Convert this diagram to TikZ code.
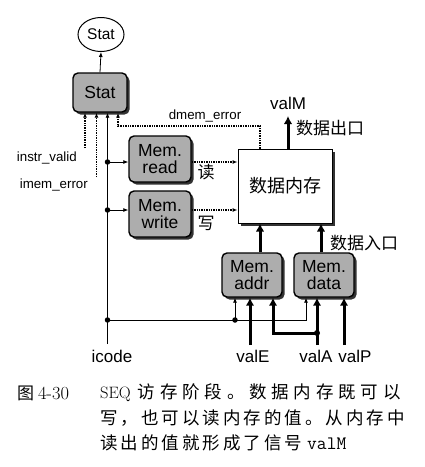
\documentclass[tikz,border=0pt]{standalone}
\usepackage{fontspec}
\usetikzlibrary{arrows.meta,shadows,shapes.geometric}
\newfontfamily\lsans{Liberation Sans}
\newfontfamily\cjk{Noto Sans CJK SC}
\newdimen\spk \spk=3pt
\def\spc#1{\ifx#1\relax\else#1\kern\spk\expandafter\spc\fi}
\begin{document}
\begin{tikzpicture}[x=1pt,y=-1pt,
  box/.style={draw, line width=1.4pt, rounded corners=5pt, fill=black!32,
    drop shadow={shadow xshift=2.5pt, shadow yshift=-2.5pt, fill=black!80, opacity=1},
    inner sep=0pt, align=center, font=\lsans\fontsize{17.5}{17}\selectfont},
  lbl/.style={inner sep=0pt, font=\lsans\fontsize{17}{17}\selectfont},
  slbl/.style={inner sep=0pt, font=\lsans\fontsize{13.3}{13.3}\selectfont},
  clbl/.style={inner sep=0pt, font=\cjk\fontsize{17}{17}\selectfont},
  thinarrow/.style={line width=0.8pt, -{Latex[length=5pt,width=4pt]}},
  dotarrow/.style={line width=1.4pt, densely dotted, -{Latex[length=5pt,width=4pt]}},
  thickarrow/.style={line width=3pt, -{Latex[length=8pt,width=8.5pt]}},
  dotj/.style={circle, fill, inner sep=0pt, minimum size=5.5pt}
]
\useasboundingbox (0,0) rectangle (425,467);

% nodes
\node[ellipse, draw, line width=1pt, minimum width=46pt, minimum height=34pt, inner sep=0pt,
  font=\lsans\fontsize{15.5}{15.5}\selectfont] (statout) at (101,34.5) {Stat};
\node[box, minimum width=54pt, minimum height=39pt] (stat) at (100,92.5) {Stat};
\node[box, minimum width=62pt, minimum height=46pt] (mread) at (160,159) {Mem.\\read};
\node[box, minimum width=62pt, minimum height=46pt] (mwrite) at (160,214) {Mem.\\write};
\node[draw, line width=1pt, fill=white, minimum width=94pt, minimum height=74pt,
  drop shadow={shadow xshift=3pt, shadow yshift=-3pt, fill=black!80, opacity=1},
  font=\cjk\fontsize{18}{18}\selectfont] (dmem) at (285,186) {数据内存};
\node[box, minimum width=60pt, minimum height=44pt] (maddr) at (252,275) {Mem.\\addr};
\node[box, minimum width=60pt, minimum height=44pt] (mdata) at (324,275) {Mem.\\data};

% labels
\node[slbl, anchor=east] (livl) at (77,158) {instr\_valid};
\node[slbl, anchor=east] (lime) at (88,185) {imem\_error};
\node[slbl] (ldme) at (205,116) {dmem\_error};
\node[clbl] (lrd) at (206,172) {读};
\node[clbl] (lwr) at (206,223) {写};
\node[lbl] (lvalm) at (288,103) {valM};
\node[clbl] (lout) at (330,128) {数据出口};
\node[clbl] (lin) at (364,243) {数据入口};
\node[lbl] (licode) at (112,356) {icode};
\node[lbl] (lvale) at (253,356) {valE};
\node[lbl] (lvala) at (316,356) {valA};
\node[lbl] (lvalp) at (355,356) {valP};

% coordinates
\coordinate (iv) at (85,148);
\coordinate (ie) at (96.5,177);
\coordinate (ic) at (107.5,344);
\coordinate (j1) at (107.5,162);
\coordinate (j2) at (107.5,210);
\coordinate (j3) at (107.5,320);
\coordinate (j4) at (235,320);
\coordinate (k) at (306,320);
\coordinate (de) at (260,126);
\coordinate (de2) at (118,126);
\coordinate (vm) at (288,116);
\coordinate (ax) at (260,240);
\coordinate (dx) at (321,240);
\coordinate (e0) at (250,345);
\coordinate (a0) at (317,345);
\coordinate (aj) at (317,333);
\coordinate (ak) at (273,333);
\coordinate (p0) at (344,345);

% connectors
\draw[line width=0.8pt, -{Latex[length=5pt,width=4pt]}] (stat.north) -- (statout.south);
\draw[dotarrow] (iv) -- (iv |- stat.south);
\draw[dotarrow] (ie) -- (ie |- stat.south);
\draw[thinarrow] (ic) -- (ic |- stat.south);
\draw[dotarrow] (de |- dmem.north) -- (de) -- (de2) -- (de2 |- stat.south);
\draw[thinarrow] (j1) -- (j1 -| mread.west);
\draw[thinarrow] (j2) -- (j2 -| mwrite.west);
\draw[thinarrow] (j3) -- (k) -- (k |- mdata.south);
\draw[thinarrow] (j4) -- (j4 |- maddr.south);
\draw[dotarrow] (j1 -| mread.east) -- (j1 -| dmem.west);
\draw[dotarrow] (j2 -| mwrite.east) -- (j2 -| dmem.west);
\draw[thickarrow] (vm |- dmem.north) -- (vm);
\draw[thickarrow] (maddr.north -| ax) -- (dmem.south -| ax);
\draw[thickarrow] (mdata.north -| dx) -- (dmem.south -| dx);
\draw[thickarrow] (e0) -- (e0 |- maddr.south);
\draw[thickarrow] (a0) -- (a0 |- mdata.south);
\draw[thickarrow] (aj) -- (ak) -- (ak |- maddr.south);
\draw[thickarrow] (p0) -- (p0 |- mdata.south);
\node[dotj] (d1) at (j1) {};
\node[dotj] (d2) at (j2) {};
\node[dotj] (d3) at (j3) {};
\node[dotj] (d4) at (j4) {};
\node[dotj, minimum size=6pt] (d5) at (aj) {};

% caption
\node[anchor=west, inner sep=0pt] (cap0) at (17,393) {\cjk\fontsize{17}{17}\selectfont 图\ \rmfamily\fontsize{18.5}{17}\selectfont 4-30};
\node[anchor=west, inner sep=0pt] (cap1) at (100,393) {\rmfamily\fontsize{16.5}{17}\selectfont SEQ\kern7pt\cjk\fontsize{17.5}{17.5}\selectfont \spk=4.8pt\spc 访存阶段。数据内存既可以\relax};
\node[anchor=west, inner sep=0pt] (cap2) at (100,418) {\cjk\fontsize{17.5}{17.5}\selectfont \spc 写，也可以读内存的值。从内存中\relax};
\node[anchor=west, inner sep=0pt] (cap3) at (100,443) {\cjk\fontsize{17.5}{17.5}\selectfont \spc 读出的值就形成了信号\relax\kern2pt\ttfamily\fontsize{19}{19}\selectfont valM};
\end{tikzpicture}
\end{document}
